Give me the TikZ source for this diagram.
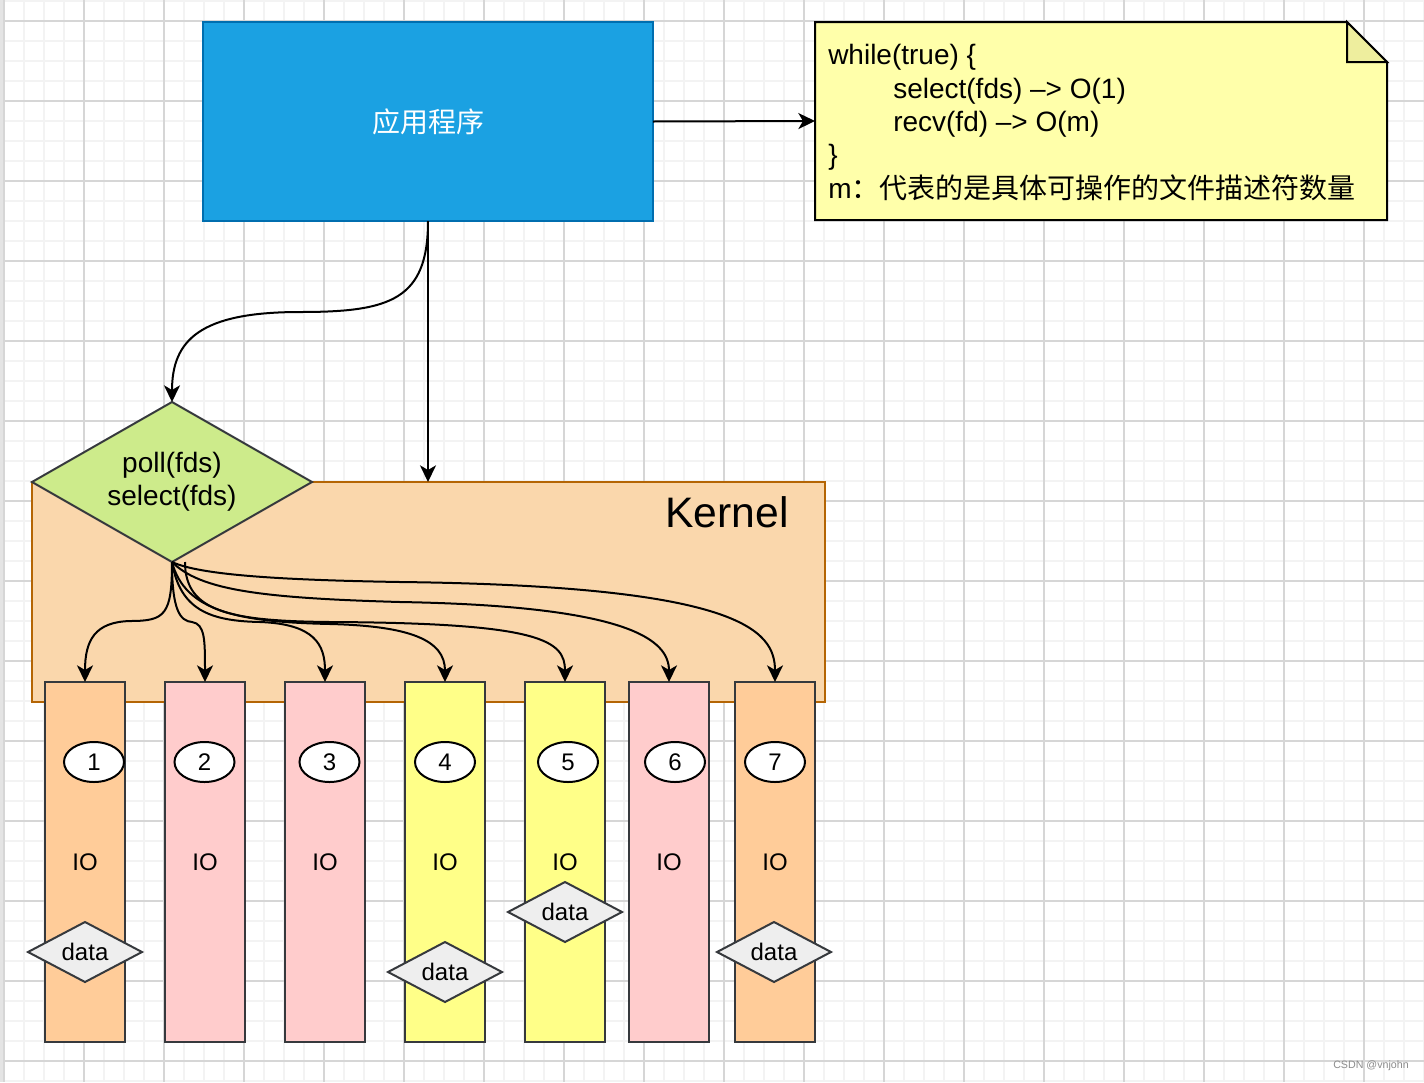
\documentclass[tikz,border=0pt]{standalone}
\usepackage{fontspec}
\setmainfont{Liberation Sans}
\newfontfamily\cjk{Noto Sans CJK SC}
\usetikzlibrary{shapes.geometric,arrows.meta}
\definecolor{appfill}{HTML}{1BA1E2}
\definecolor{appstroke}{HTML}{006EAF}
\definecolor{notefill}{HTML}{FFFFAA}
\definecolor{notefold}{HTML}{EEEE9E}
\definecolor{greenfill}{HTML}{CDEB8B}
\definecolor{darkstroke}{HTML}{36393D}
\definecolor{kernelfill}{HTML}{FAD7AC}
\definecolor{kernelstroke}{HTML}{B46504}
\definecolor{orangecol}{HTML}{FFCC99}
\definecolor{pinkcol}{HTML}{FFCCCC}
\definecolor{yellowcol}{HTML}{FFFF88}
\definecolor{datafill}{HTML}{EEEEEE}
\definecolor{minorgrid}{HTML}{F3F3F3}
\definecolor{majorgrid}{HTML}{D6D6D6}
\definecolor{edgegray}{HTML}{E4E4E4}
\newcommand\fbig{\fontsize{21}{24.75}\selectfont}
\newcommand\fmid{\fontsize{18}{21}\selectfont}
\begin{document}
\begin{tikzpicture}[x=0.75pt,y=-0.75pt,
  shp/.style={line width=1.5pt,inner sep=0pt,outer sep=0pt},
  column/.style={shp,draw=darkstroke,minimum width=60pt,minimum height=270pt,font=\fmid},
  numell/.style={shp,ellipse,draw=black,fill=white,minimum width=45pt,minimum height=30pt,font=\fmid},
  datadia/.style={shp,diamond,aspect=1.9,draw=darkstroke,fill=datafill,minimum width=85.5pt,minimum height=45pt,font=\fmid},
  arr/.style={line width=1.5pt,-{Stealth[length=12.5pt,width=12pt,inset=3.5pt]}},
  notetext/.style={anchor=base west,inner sep=0pt,font=\fbig}
]
\useasboundingbox (0,0) rectangle (1424,1082);
% background grid
\fill[white] (0,0) rectangle (1424,1082);
\foreach \i in {0,...,71} \draw[minorgrid,line width=1.5pt] ({4+20*\i},0) -- ({4+20*\i},1082);
\foreach \j in {0,...,54} \draw[minorgrid,line width=1.5pt] (0,{1+20*\j}) -- (1424,{1+20*\j});
\foreach \i in {0,...,17} \draw[majorgrid,line width=0.8pt] ({4+80*\i},0) -- ({4+80*\i},1082);
\foreach \j in {0,...,13} \draw[majorgrid,line width=0.8pt] (0,{21+80*\j}) -- (1424,{21+80*\j});
\fill[edgegray] (0,0) rectangle (3,1082);

% application box
\node[shp,draw=appstroke,fill=appfill,minimum width=337.5pt,minimum height=149.25pt,
      text=white,font=\cjk\fbig] (app) at (428,121.5) {应用程序};

% note
\node[shp,minimum width=429pt,minimum height=148.5pt] (note) at (1101,121) {};
\draw[line width=1.5pt,fill=notefill] (note.north west) -- ([xshift=-30pt]note.north east)
  -- ([yshift=-30pt]note.north east) -- (note.south east) -- (note.south west) -- cycle;
\draw[line width=1.5pt,fill=notefold,line join=miter] ([xshift=-30pt]note.north east)
  -- ([xshift=-30pt,yshift=-30pt]note.north east) -- ([yshift=-30pt]note.north east) -- cycle;
\node[notetext] (n1) at (828,64) {while(true) \{};
\node[notetext] (n2) at (893,98) {select(fds) \textendash> O(1)};
\node[notetext] (n3) at (893,131) {recv(fd) \textendash> O(m)};
\node[notetext] (n4) at (828,164) {\}};
\node[notetext] (n5) at (828,198) {m{\cjk：代表的是具体可操作的文件描述符数量}};

% kernel
\node[shp,draw=kernelstroke,fill=kernelfill,minimum width=594.75pt,minimum height=165pt] (kernel) at (428.5,592) {};
\node[anchor=base west,inner sep=0pt,font=\fontsize{32}{38}\selectfont] (kerneltext) at (665,527) {Kernel};

% poll/select diamond
\node[shp,diamond,aspect=1.75,draw=darkstroke,fill=greenfill,minimum width=210pt,minimum height=120pt,
      align=center,font=\fbig] (poll) at (172,482) {poll(fds)\\select(fds)};

% IO columns
\node[column,fill=orangecol] (c1) at (85,862) {IO};
\node[column,fill=pinkcol]   (c2) at (205,862) {IO};
\node[column,fill=pinkcol]   (c3) at (325,862) {IO};
\node[column,fill=yellowcol] (c4) at (445,862) {IO};
\node[column,fill=yellowcol] (c5) at (565,862) {IO};
\node[column,fill=pinkcol]   (c6) at (669,862) {IO};
\node[column,fill=orangecol] (c7) at (775,862) {IO};

% number ellipses
\node[numell] (e1) at (94,762) {1};
\node[numell] (e2) at (204.5,762) {2};
\node[numell] (e3) at (329.5,762) {3};
\node[numell] (e4) at (445,762) {4};
\node[numell] (e5) at (568,762) {5};
\node[numell] (e6) at (675,762) {6};
\node[numell] (e7) at (775,762) {7};

% data diamonds
\node[datadia] (d1) at (85,952) {data};
\node[datadia] (d4) at (445,972) {data};
\node[datadia] (d5) at (565,912) {data};
\node[datadia] (d7) at (774,952) {data};

% connectors
\draw[arr] (app.east) -- (note.west);
\draw[arr] (app.south) -- (app.south |- kernel.north);
\draw[arr] (app.south) .. controls (428,300) and (390,312) .. (300,312)
  .. controls (200,312) and (172,340) .. (poll.north);

\coordinate (pb) at (poll.south);
\coordinate (pb2) at (185,562);
\draw[arr] (pb) .. controls (172,615) and (165,621) .. (130,621)
  .. controls (95,622) and (85,640) .. (c1.north);
\draw[arr] (pb) .. controls (172,610) and (180,621) .. (192,622)
  .. controls (205,624) and (205,640) .. (c2.north);
\draw[arr] (pb) .. controls (180,610) and (210,621) .. (260,622)
  .. controls (315,624) and (325,645) .. (c3.north);
\draw[arr] (pb) .. controls (185,612) and (240,622) .. (330,624)
  .. controls (410,626) and (445,640) .. (c4.north);
\draw[arr] (pb2) .. controls (185,612) and (230,621) .. (330,622)
  .. controls (540,623) and (565,640) .. (c5.north);
\draw[arr] (pb) .. controls (200,590) and (260,598) .. (400,602)
  .. controls (630,606) and (669,640) .. (c6.north);
\draw[arr] (pb) .. controls (200,575) and (280,580) .. (400,582)
  .. controls (740,586) and (775,630) .. (c7.north);

% watermark
\node[inner sep=0pt,font=\fontsize{8}{10}\selectfont,text=black!45] (wm) at (1371,1066) {CSDN @vnjohn};
\end{tikzpicture}
\end{document}
